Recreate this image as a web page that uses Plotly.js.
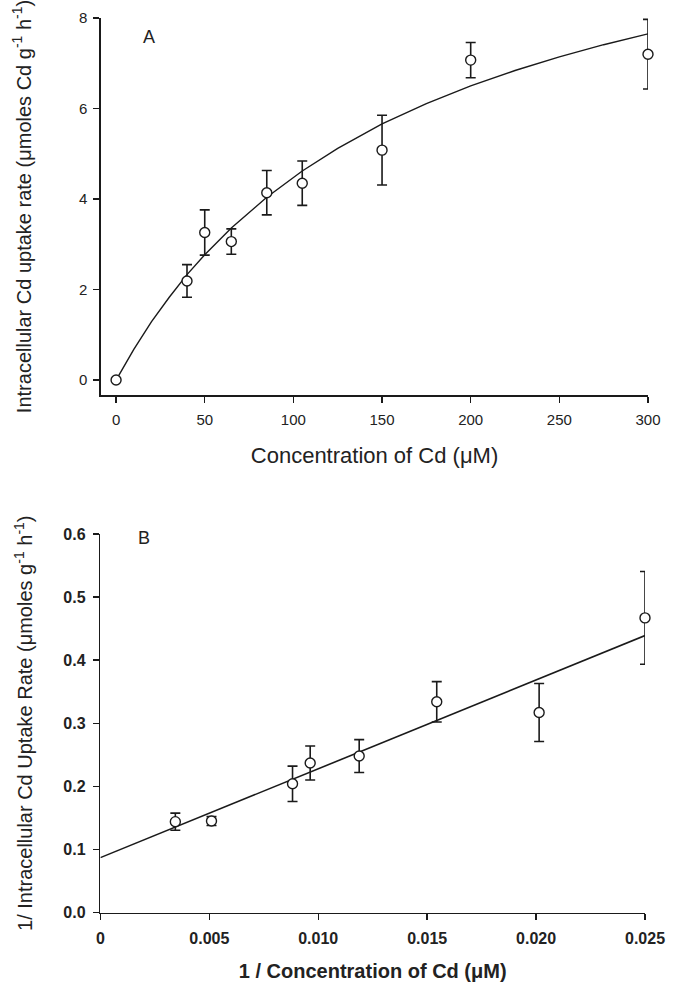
<!DOCTYPE html>
<html>
<head>
<meta charset="utf-8">
<script src="https://cdn.plot.ly/plotly-3.0.1.min.js"></script>
<style>html,body{margin:0;padding:0;background:#fff;}#chart{width:680px;height:991px;}</style>
</head>
<body>
<div id="chart"></div>
<script>
// Panel A: intracellular Cd uptake rate vs Cd concentration
const concA = [0, 40, 50, 65, 85, 105, 150, 200, 300];
const rateA = [0, 2.19, 3.26, 3.06, 4.14, 4.35, 5.08, 7.07, 7.20];
const errA  = [0, 0.36, 0.50, 0.28, 0.49, 0.49, 0.77, 0.39, 0.77];
// fitted curve
const fitAx = [0, 10, 20, 30, 40, 50, 65, 85, 105, 125, 150, 175, 200, 225, 250, 275, 300];
const fitAy = [0, 0.68, 1.29, 1.83, 2.33, 2.77, 3.36, 4.04, 4.62, 5.12, 5.66, 6.11, 6.50, 6.84, 7.14, 7.41, 7.65];

// Panel B: double reciprocal plot
const invConcB = [0.00344, 0.0051, 0.00882, 0.00963, 0.01188, 0.01544, 0.02014, 0.025];
const invRateB = [0.144, 0.145, 0.204, 0.237, 0.248, 0.334, 0.317, 0.467];
const errB     = [0.0135, 0.007, 0.028, 0.027, 0.026, 0.032, 0.046, 0.0735];
const fitBx = [0, 0.025];
const fitBy = [0.087, 0.439];

const xTicksA = [0, 50, 100, 150, 200, 250, 300];
const yTicksA = [0, 2, 4, 6, 8];
const xTicksB = [0, 0.005, 0.010, 0.015, 0.020, 0.025];
const xTickTextB = ['0', '0.005', '0.010', '0.015', '0.020', '0.025'];
const yTicksB = [0, 0.1, 0.2, 0.3, 0.4, 0.5, 0.6];
const yTickTextB = ['0.0', '0.1', '0.2', '0.3', '0.4', '0.5', '0.6'];

const ink = '#1a1a1a';
const txt = '#222';
const fontFam = 'Liberation Sans, Arial, sans-serif';

const traces = [
  {x: fitAx, y: fitAy, mode: 'lines', line: {color: ink, width: 1.4}, xaxis: 'x', yaxis: 'y', hoverinfo: 'skip', cliponaxis: false},
  {x: concA, y: rateA, mode: 'markers', xaxis: 'x', yaxis: 'y', cliponaxis: false,
   error_y: {type: 'data', array: errA, visible: true, color: ink, thickness: 1.6, width: 5},
   marker: {symbol: 'circle', size: 10, color: '#fff', line: {color: ink, width: 1.4}}},
  {x: fitBx, y: fitBy, mode: 'lines', line: {color: ink, width: 1.6}, xaxis: 'x2', yaxis: 'y2', hoverinfo: 'skip', cliponaxis: false},
  {x: invConcB, y: invRateB, mode: 'markers', xaxis: 'x2', yaxis: 'y2', cliponaxis: false,
   error_y: {type: 'data', array: errB, visible: true, color: ink, thickness: 1.6, width: 5},
   marker: {symbol: 'circle', size: 10, color: '#fff', line: {color: ink, width: 1.4}}}
];

const axCommon = {
  showgrid: false, zeroline: false, showline: true, linecolor: ink, linewidth: 1.6,
  ticks: 'outside', ticklen: 6, tickwidth: 1.4, tickcolor: ink,
  automargin: false
};

const layout = {
  width: 680, height: 991,
  margin: {l: 0, r: 0, t: 0, b: 0},
  paper_bgcolor: '#fff', plot_bgcolor: '#fff',
  showlegend: false,
  font: {family: fontFam, color: txt},
  xaxis: Object.assign({}, axCommon, {
    domain: [101/680, 648/680], range: [-8.5, 300], anchor: 'y',
    tickvals: xTicksA, ticktext: xTicksA.map(String), ticklabelstandoff: 4,
    tickfont: {family: fontFam, size: 15, color: txt},
    title: {text: 'Concentration of Cd (\u03bcM)', font: {family: fontFam, size: 22, color: txt}, standoff: 21}
  }),
  yaxis: Object.assign({}, axCommon, {
    domain: [1 - 395/991, 1 - 18/991], range: [-0.33, 8], anchor: 'x',
    tickvals: yTicksA, ticktext: yTicksA.map(String), ticklabelstandoff: 3,
    tickfont: {family: fontFam, size: 15, color: txt},
    title: {text: 'Intracellular Cd uptake rate (\u03bcmoles Cd g<sup>-1</sup> h<sup>-1</sup>)', font: {family: fontFam, size: 20, color: txt}, standoff: 42}
  }),
  xaxis2: Object.assign({}, axCommon, {
    domain: [100.4/680, 645/680], range: [0, 0.025], anchor: 'y2',
    tickvals: xTicksB, ticktext: xTickTextB, ticklabelstandoff: 5,
    tickfont: {family: fontFam, size: 16, color: txt, weight: 'bold'},
    title: {text: '1 / Concentration of Cd (\u03bcM)', font: {family: fontFam, size: 20, color: txt, weight: 'bold'}, standoff: 18}
  }),
  yaxis2: Object.assign({}, axCommon, {
    domain: [1 - 912.5/991, 1 - 534/991], range: [0, 0.6], anchor: 'x2',
    tickvals: yTicksB, ticktext: yTickTextB, ticklabelstandoff: 4,
    tickfont: {family: fontFam, size: 16, color: txt, weight: 'bold'},
    title: {text: '1/ Intracellular Cd Uptake Rate (\u03bcmoles g<sup>-1</sup> h<sup>-1</sup>)', font: {family: fontFam, size: 20, color: txt}, standoff: 25}
  }),
  annotations: [
    {text: 'A', x: 141/680, y: 1 - 25/991, xref: 'paper', yref: 'paper', showarrow: false, font: {family: fontFam, size: 18, color: txt}},
    {text: 'B', x: 136/680, y: 1 - 538/991, xref: 'paper', yref: 'paper', showarrow: false, font: {family: fontFam, size: 18, color: txt}}
  ]
};

Plotly.newPlot('chart', traces, layout, {displayModeBar: false, staticPlot: true});
</script>
</body>
</html>
